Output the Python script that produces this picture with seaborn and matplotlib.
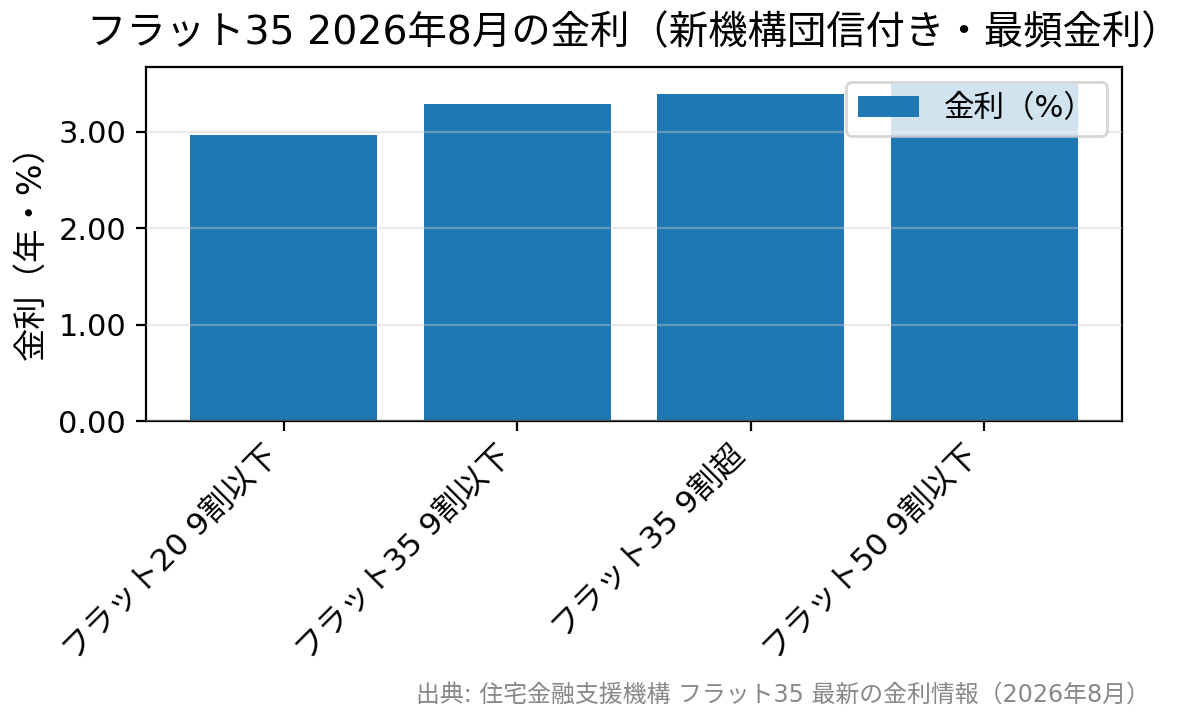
import matplotlib

matplotlib.use("Agg")
import matplotlib.pyplot as plt
import pandas as pd
import seaborn as sns

plt.rcParams["font.family"] = ["DejaVu Sans", "Noto Sans CJK JP"]

products = ["フラット20 9割以下", "フラット35 9割以下", "フラット35 9割超", "フラット50 9割以下"]
rates = [2.97, 3.29, 3.39, 3.50]

TITLE = "フラット35 2026年8月の金利（新機構団信付き・最頻金利）"
SOURCE = "出典: 住宅金融支援機構 フラット35 最新の金利情報（2026年8月）"


def main():
    df = pd.DataFrame({"product": products, "rate": rates})

    fig, ax = plt.subplots(figsize=(6.02, 3.625), dpi=200)
    fig.subplots_adjust(left=0.121, right=0.932, top=0.908, bottom=0.419)

    sns.barplot(data=df, x="product", y="rate", color="#1f77b4", saturation=1,
                width=0.8, label="金利（%）", ax=ax)
    ax.set_xlim(-0.59, 3.59)
    ax.set_ylim(0, 3.675)
    ax.yaxis.set_major_formatter(matplotlib.ticker.FormatStrFormatter("%.2f"))
    ax.set_yticks([0, 1, 2, 3])
    ax.grid(axis="y", color="#cccccc", alpha=0.4, linewidth=0.8)
    ax.set_axisbelow(False)

    ax.set_xlabel("")
    ax.set_ylabel("金利（年・%）", fontsize=12)
    ax.set_title(TITLE, fontsize=14.2, pad=8)
    ax.tick_params(axis="y", labelsize=11)
    plt.setp(ax.get_xticklabels(), rotation=45, ha="right", fontsize=11.3)
    ax.legend(loc="upper right", fontsize=11)

    fig.text(0.955, 0.025, SOURCE, ha="right", va="bottom", fontsize=8.6, color="#888888")

    fig.savefig("out.png", dpi=200)
    plt.close(fig)


if __name__ == "__main__":
    main()
